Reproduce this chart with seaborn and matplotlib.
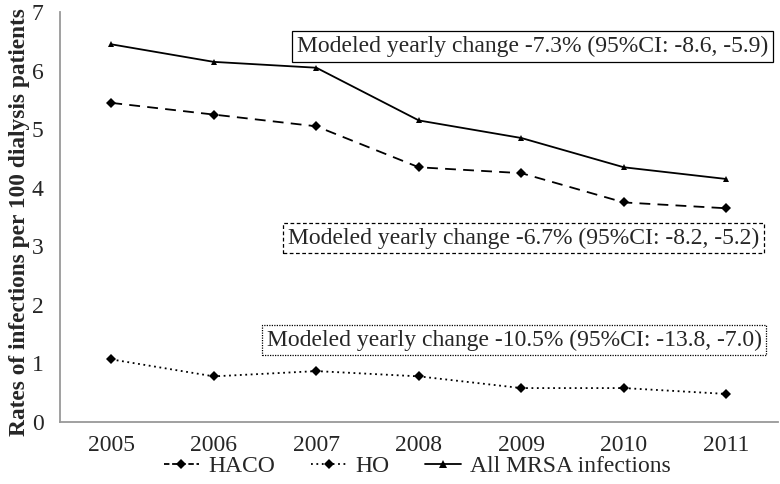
import pandas as pd
import matplotlib.pyplot as plt
import seaborn as sns
from matplotlib.lines import Line2D

years = ["2005", "2006", "2007", "2008", "2009", "2010", "2011"]
haco = [5.45, 5.25, 5.05, 4.35, 4.25, 3.75, 3.65]
ho = [1.07, 0.78, 0.87, 0.78, 0.58, 0.58, 0.48]
all_mrsa = [6.45, 6.15, 6.05, 5.15, 4.85, 4.35, 4.15]
series_names = ["HACO", "HO", "All MRSA infections"]
notes = [
    "Modeled yearly change -7.3% (95%CI: -8.6, -5.9)",
    "Modeled yearly change -6.7% (95%CI: -8.2, -5.2)",
    "Modeled yearly change -10.5% (95%CI: -13.8, -7.0)",
]

df = pd.DataFrame({
    "year": years * 3,
    "rate": haco + ho + all_mrsa,
    "series": [n for n in series_names for _ in years],
})

sns.set_style("white")
plt.rcParams["font.family"] = ["Liberation Serif", "DejaVu Serif"]

fig = plt.figure(figsize=(7.8, 4.84), dpi=100)
ax = fig.add_axes([0.077, 0.128, 0.92, 0.847])

dashes = {"HACO": (6, 4), "HO": (1, 2), "All MRSA infections": ""}
markers = {"HACO": "D", "HO": "D", "All MRSA infections": "^"}
palette = {n: "black" for n in series_names}
sns.lineplot(data=df, x="year", y="rate", hue="series", style="series",
             dashes=dashes, markers=markers, palette=palette, linewidth=1.3,
             markersize=5, markeredgewidth=0, legend=False, ax=ax)

ax.set_xlim(-0.5, 6.5)
ax.set_ylim(0, 7)
ax.set_yticks(range(0, 8))
ax.set_xlabel("")
ax.set_ylabel("")
fig.text(20 / 780, 1 - 222 / 484, "Rates of infections per 100 dialysis patients",
         fontsize=16.8, fontweight="bold", rotation=90, ha="center", va="center")
ax.tick_params(axis="both", labelsize=17, length=0)
ax.tick_params(axis="x", pad=9)
ax.tick_params(axis="y", pad=12)
for s in ["top", "right"]:
    ax.spines[s].set_visible(False)
for s in ["left", "bottom"]:
    ax.spines[s].set_color("#999999")
    ax.spines[s].set_linewidth(1.3)

ax.text(4.11, 6.41, notes[0], fontsize=17, ha="center", va="center",
        bbox=dict(boxstyle="square,pad=0.2", fc="white", ec="black", lw=0.9))
ax.text(4.02, 3.14, notes[1], fontsize=17, ha="center", va="center",
        bbox=dict(boxstyle="square,pad=0.2", fc="white", ec="black", lw=0.9, ls=(0, (3, 2))))
ax.text(3.93, 1.40, notes[2], fontsize=17, ha="center", va="center",
        bbox=dict(boxstyle="square,pad=0.2", fc="white", ec="black", lw=0.9, ls=(0, (1, 1))))

handles = [
    Line2D([], [], color="black", ls=(0, (3, 1.5)), marker="D", markersize=5, mew=0, lw=1.3),
    Line2D([], [], color="black", ls=(0, (1, 2)), marker="D", markersize=5, mew=0, lw=1.3),
    Line2D([], [], color="black", ls="-", marker="^", markersize=5.5, mew=0, lw=1.3),
]
fig.legend(handles, series_names, loc="lower center", ncol=3, frameon=False,
           fontsize=17, bbox_to_anchor=(0.535, -0.03), handlelength=1.5,
           handletextpad=0.4, columnspacing=1.5)

fig.savefig("out.png", dpi=100)
